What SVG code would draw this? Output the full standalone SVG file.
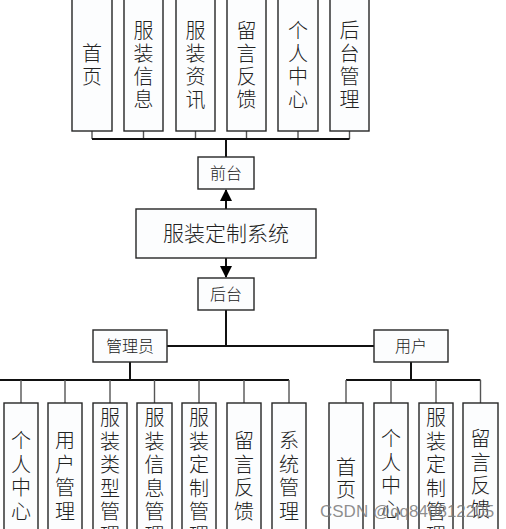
<svg xmlns="http://www.w3.org/2000/svg" width="506" height="529" viewBox="0 0 506 529">
<defs>
<style>
.box{fill:#fcfdfe;stroke:#262626;stroke-width:1.4}
.shadow{fill:none;stroke:#b8b8b8;stroke-width:1.2}
.t{font-family:"Noto Sans CJK SC","Noto Sans",sans-serif;font-weight:300;fill:#222;text-anchor:middle}
.v{font-size:20px}
.trunk{stroke:#111;stroke-width:2;fill:none}
.stem{stroke:#555;stroke-width:1.4;fill:none}
</style>
<marker id="arr" markerWidth="12" markerHeight="12" refX="11" refY="6" orient="auto" markerUnits="userSpaceOnUse">
<path d="M0,0 L12,6 L0,12 Z" fill="#000"/>
</marker>
</defs>
<rect width="506" height="529" fill="#fff"/>

<g id="connectors">
<!-- top -->
<path class="stem" d="M92,131 V139 M143.5,131 V139 M195.5,131 V139 M246.5,131 V139 M298,131 V139 M349.5,131 V139"/>
<path class="trunk" d="M92,139 H349.5 M226,139 V157"/>
<path class="trunk" d="M226,209 V190" marker-end="url(#arr)"/>
<path class="trunk" d="M226,258 V277" marker-end="url(#arr)"/>
<path class="trunk" d="M226,310 V346 M167,346 H374"/>
<!-- admin -->
<path class="trunk" d="M130,362 V380 M0,380 H289"/>
<path class="stem" d="M21,380 V403 M65,380 V403 M110,380 V403 M154.5,380 V403 M199,380 V403 M244,380 V403 M289,380 V403"/>
<!-- user -->
<path class="trunk" d="M411,362 V380 M346,380 H480.5"/>
<path class="stem" d="M346,380 V403 M391,380 V403 M436,380 V403 M480.5,380 V403"/>
</g>

<g id="n_front_home"><rect class="box" x="72" y="-3" width="40" height="134"/><text class="t v" x="92" y="61">首<tspan x="92" dy="23">页</tspan></text></g>
<g id="n_front_info"><rect class="box" x="124" y="-3" width="39" height="134"/><text class="t v" x="143.5" y="38">服<tspan x="143.5" dy="23">装</tspan><tspan x="143.5" dy="23">信</tspan><tspan x="143.5" dy="23">息</tspan></text></g>
<g id="n_front_news"><rect class="box" x="176" y="-3" width="39" height="134"/><text class="t v" x="195.5" y="38">服<tspan x="195.5" dy="23">装</tspan><tspan x="195.5" dy="23">资</tspan><tspan x="195.5" dy="23">讯</tspan></text></g>
<g id="n_front_msg"><rect class="box" x="227" y="-3" width="39" height="134"/><text class="t v" x="246.5" y="38">留<tspan x="246.5" dy="23">言</tspan><tspan x="246.5" dy="23">反</tspan><tspan x="246.5" dy="23">馈</tspan></text></g>
<g id="n_front_user"><rect class="box" x="278" y="-3" width="40" height="134"/><text class="t v" x="298" y="38">个<tspan x="298" dy="23">人</tspan><tspan x="298" dy="23">中</tspan><tspan x="298" dy="23">心</tspan></text></g>
<g id="n_front_admin"><rect class="box" x="330" y="-3" width="39" height="134"/><text class="t v" x="349.5" y="38">后<tspan x="349.5" dy="23">台</tspan><tspan x="349.5" dy="23">管</tspan><tspan x="349.5" dy="23">理</tspan></text></g>

<g id="n_front"><rect class="box" x="198" y="157" width="56" height="32"/><text class="t" x="226" y="179" font-size="16">前台</text></g>
<g id="n_system"><rect class="box" x="136" y="209" width="180" height="49"/><text class="t" x="226" y="241" font-size="21">服装定制系统</text></g>
<g id="n_back"><rect class="box" x="198" y="278" width="56" height="32"/><text class="t" x="226" y="300" font-size="16">后台</text></g>

<g id="n_admin"><rect class="box" x="93" y="330" width="74" height="32"/><text class="t" x="130" y="352" font-size="16">管理员</text></g>
<g id="n_user"><rect class="box" x="374" y="330" width="74" height="32"/><text class="t" x="411" y="352" font-size="16">用户</text></g>

<g id="n_a1"><rect class="box" x="4" y="403" width="34" height="140"/><text class="t v" x="21" y="448">个<tspan x="21" dy="23.5">人</tspan><tspan x="21" dy="23.5">中</tspan><tspan x="21" dy="23.5">心</tspan></text></g>
<g id="n_a2"><rect class="box" x="48" y="403" width="34" height="140"/><text class="t v" x="65" y="448">用<tspan x="65" dy="23.5">户</tspan><tspan x="65" dy="23.5">管</tspan><tspan x="65" dy="23.5">理</tspan></text></g>
<g id="n_a3"><rect class="box" x="93" y="403" width="34" height="140"/><text class="t v" x="110" y="425">服<tspan x="110" dy="23.5">装</tspan><tspan x="110" dy="23.5">类</tspan><tspan x="110" dy="23.5">型</tspan><tspan x="110" dy="23.5">管</tspan><tspan x="110" dy="23.5">理</tspan></text></g>
<g id="n_a4"><rect class="box" x="137" y="403" width="35" height="140"/><text class="t v" x="154.5" y="425">服<tspan x="154.5" dy="23.5">装</tspan><tspan x="154.5" dy="23.5">信</tspan><tspan x="154.5" dy="23.5">息</tspan><tspan x="154.5" dy="23.5">管</tspan><tspan x="154.5" dy="23.5">理</tspan></text></g>
<g id="n_a5"><rect class="box" x="182" y="403" width="34" height="140"/><text class="t v" x="199" y="425">服<tspan x="199" dy="23.5">装</tspan><tspan x="199" dy="23.5">定</tspan><tspan x="199" dy="23.5">制</tspan><tspan x="199" dy="23.5">管</tspan><tspan x="199" dy="23.5">理</tspan></text></g>
<g id="n_a6"><rect class="box" x="227" y="403" width="34" height="140"/><text class="t v" x="244" y="448">留<tspan x="244" dy="23.5">言</tspan><tspan x="244" dy="23.5">反</tspan><tspan x="244" dy="23.5">馈</tspan></text></g>
<g id="n_a7"><rect class="box" x="272" y="403" width="34" height="140"/><text class="t v" x="289" y="448">系<tspan x="289" dy="23.5">统</tspan><tspan x="289" dy="23.5">管</tspan><tspan x="289" dy="23.5">理</tspan></text></g>

<g id="n_u1"><rect class="box" x="329" y="403" width="34" height="140"/><text class="t v" x="346" y="475">首<tspan x="346" dy="22">页</tspan></text></g>
<g id="n_u2"><rect class="box" x="374" y="403" width="34" height="140"/><text class="t v" x="391" y="446">个<tspan x="391" dy="23.5">人</tspan><tspan x="391" dy="23.5">中</tspan><tspan x="391" dy="23.5">心</tspan></text></g>
<g id="n_u3"><rect class="box" x="419" y="403" width="34" height="140"/><text class="t v" x="436" y="425">服<tspan x="436" dy="23.5">装</tspan><tspan x="436" dy="23.5">定</tspan><tspan x="436" dy="23.5">制</tspan><tspan x="436" dy="23.5">管</tspan><tspan x="436" dy="23.5">理</tspan></text></g>
<g id="n_u4"><rect class="box" x="463" y="403" width="35" height="140"/><text class="t v" x="480.5" y="446">留<tspan x="480.5" dy="23.5">言</tspan><tspan x="480.5" dy="23.5">反</tspan><tspan x="480.5" dy="23.5">馈</tspan></text></g>

<text x="320" y="517" font-family="'Liberation Sans',Arial,sans-serif" font-size="17" fill="#7a7a7a" fill-opacity="0.85">CSDN @qq840812205</text>
</svg>
